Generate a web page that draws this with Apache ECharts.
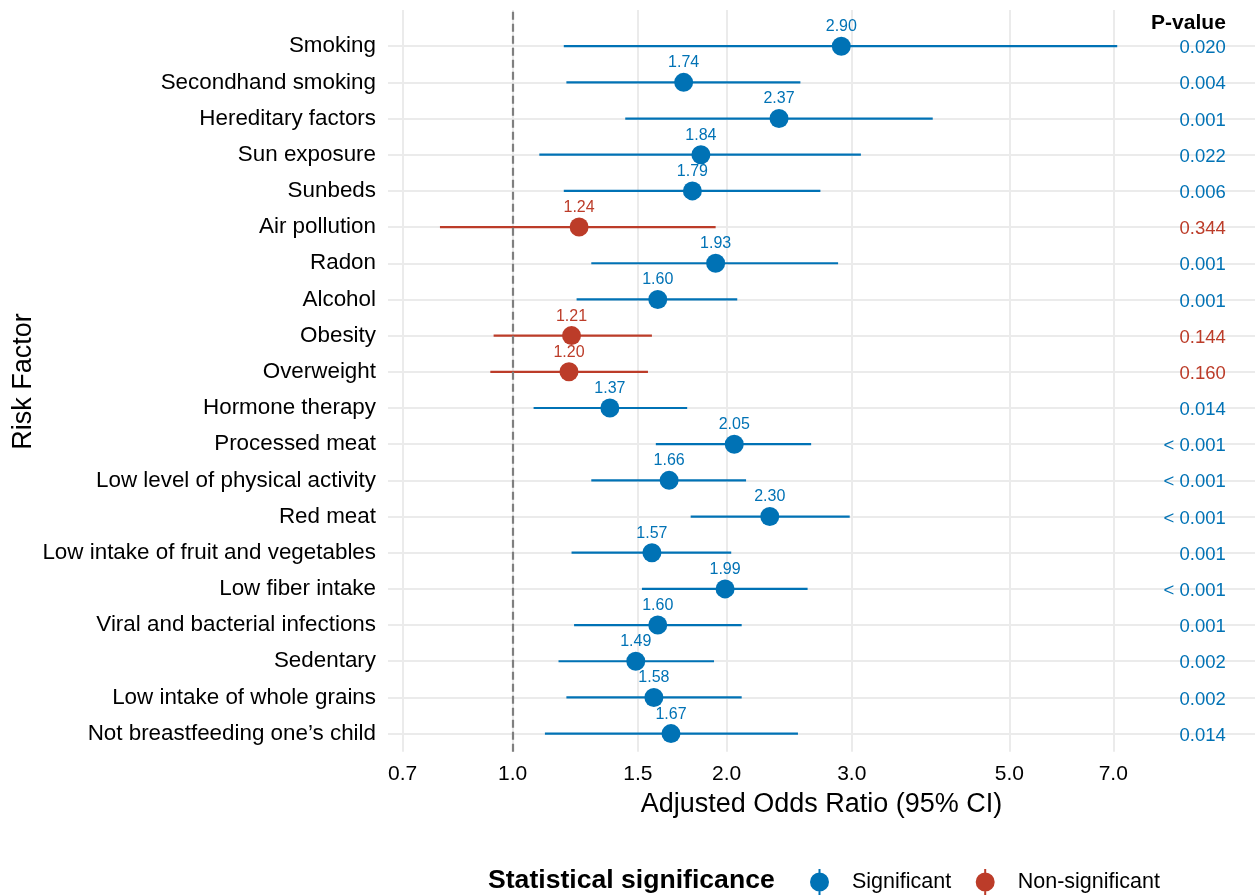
<!DOCTYPE html>
<html>
<head>
<meta charset="utf-8">
<script src="https://cdn.jsdelivr.net/npm/echarts@6/dist/echarts.min.js"></script>
<style>
  html, body { margin: 0; padding: 0; background: #fff; }
  #chart { width: 1255px; height: 895px; }
</style>
</head>
<body>
<div id="chart"></div>
<script>
// ---------- data (top row first) ----------
const categories = [
  'Smoking', 'Secondhand smoking', 'Hereditary factors', 'Sun exposure', 'Sunbeds',
  'Air pollution', 'Radon', 'Alcohol', 'Obesity', 'Overweight', 'Hormone therapy',
  'Processed meat', 'Low level of physical activity', 'Red meat',
  'Low intake of fruit and vegetables', 'Low fiber intake',
  'Viral and bacterial infections', 'Sedentary', 'Low intake of whole grains',
  'Not breastfeeding one\u2019s child'
];
const oddsRatio = [2.90, 1.74, 2.37, 1.84, 1.79, 1.24, 1.93, 1.60, 1.21, 1.20,
                   1.37, 2.05, 1.66, 2.30, 1.57, 1.99, 1.60, 1.49, 1.58, 1.67];
const ciLower   = [1.18, 1.19, 1.44, 1.09, 1.18, 0.79, 1.29, 1.23, 0.94, 0.93,
                   1.07, 1.59, 1.29, 1.78, 1.21, 1.52, 1.22, 1.16, 1.19, 1.11];
const ciUpper   = [7.09, 2.54, 3.90, 3.09, 2.71, 1.93, 2.87, 2.07, 1.57, 1.55,
                   1.76, 2.63, 2.13, 2.98, 2.03, 2.60, 2.10, 1.92, 2.10, 2.52];
const pValueLabels = ['0.020', '0.004', '0.001', '0.022', '0.006', '0.344', '0.001',
                      '0.001', '0.144', '0.160', '0.014', '< 0.001', '< 0.001',
                      '< 0.001', '0.001', '< 0.001', '0.001', '0.002', '0.002', '0.014'];
const isSignificant = [1, 1, 1, 1, 1, 0, 1, 1, 0, 0, 1, 1, 1, 1, 1, 1, 1, 1, 1, 1];
const xTickValues = [0.7, 1.0, 1.5, 2.0, 3.0, 5.0, 7.0];
const xRange = [0.6676, 11.08];      // odds-ratio scale limits (log scale)
const referenceOR = 1.0;
const pValueX = 10.08;               // odds-ratio position of the p-value column
const pHeaderRow = 20.7;
const pHeader = 'P-value';
const groupNames = ['Non-significant', 'Significant'];

// ---------- style ----------
const BLUE = '#0072B5';
const RED = '#BC3C29';
const FONT = '"Liberation Sans", Arial, Helvetica, sans-serif';
const GRID_COLOR = '#EBEBEB';

const lg = v => Math.log10(v);
const n = categories.length;
const rowOf = i => n - i;   // top row gets the highest value

const ciData = categories.map((c, i) => [lg(ciLower[i]), lg(ciUpper[i]), rowOf(i), isSignificant[i]]);
const pointData = g => categories
  .map((c, i) => ({ i, g: isSignificant[i] }))
  .filter(o => o.g === g)
  .map(o => [lg(oddsRatio[o.i]), rowOf(o.i), oddsRatio[o.i]]);

// p-value column: [x, row, index]  (index -1 = header)
const pData = categories.map((c, i) => [lg(pValueX), rowOf(i), i]);
pData.push([lg(pValueX), pHeaderRow, -1]);

const legendIcon = 'path://M8.5 0 H10.5 V26 H8.5 Z M0 13 A9.5 9.5 0 1 1 19 13 A9.5 9.5 0 1 1 0 13 Z';

const chart = echarts.init(document.getElementById('chart'), null, { renderer: 'canvas' });
chart.setOption({
  animation: false,
  backgroundColor: '#fff',
  textStyle: { fontFamily: FONT },
  grid: { left: 388, right: 0, top: 10, bottom: 143.3, containLabel: false },
  xAxis: {
    type: 'value',
    min: lg(xRange[0]),
    max: lg(xRange[1]),
    axisLine: { show: false },
    axisTick: { show: false, customValues: xTickValues.map(lg) },
    axisLabel: {
      customValues: xTickValues.map(lg),
      formatter: v => Math.pow(10, v).toFixed(1),
      fontSize: 21, color: '#000', margin: 12, fontFamily: FONT
    },
    splitLine: { show: true, lineStyle: { color: GRID_COLOR, width: 2 } },
    name: 'Adjusted Odds Ratio (95% CI)',
    nameLocation: 'middle',
    nameGap: 39,
    nameTextStyle: { fontSize: 27, color: '#000', fontFamily: FONT }
  },
  yAxis: {
    type: 'value',
    min: 0.5,
    max: 21,
    axisLine: { show: false },
    axisTick: { show: false, customValues: categories.map((c, i) => rowOf(i)) },
    axisLabel: {
      customValues: categories.map((c, i) => rowOf(i)),
      formatter: v => categories[n - Math.round(v)],
      fontSize: 22.4, color: '#000', margin: 12, fontFamily: FONT,
      padding: [4, 0, 0, 0]
    },
    splitLine: { show: true, lineStyle: { color: GRID_COLOR, width: 2 } }
  },
  legend: {
    data: [
      { name: 'Significant', icon: legendIcon },
      { name: 'Non-significant', icon: legendIcon }
    ],
    left: 810,
    top: 869,
    padding: 0,
    itemWidth: 19,
    itemHeight: 26,
    itemGap: 24.5,
    selectedMode: false,
    textStyle: { fontSize: 21.5, color: '#000', fontFamily: FONT, padding: [0, 0, 0, 18] }
  },
  graphic: [
    {
      type: 'text', left: 488, top: 881 - 14,
      style: { text: 'Statistical significance', font: 'bold 26.6px ' + FONT, fill: '#000' }
    },
    {
      type: 'text', x: 24, y: 381.5, rotation: Math.PI / 2,
      style: { text: 'Risk Factor', font: '27px ' + FONT, fill: '#000', align: 'center', verticalAlign: 'middle' }
    }
  ],
  series: [
    {
      type: 'custom',
      name: 'ci',
      z: 2,
      encode: { x: [0, 1], y: 2 },
      data: ciData,
      renderItem: (params, api) => {
        const y = api.value(2);
        const p1 = api.coord([api.value(0), y]);
        const p2 = api.coord([api.value(1), y]);
        return {
          type: 'line',
          shape: { x1: p1[0], y1: p1[1], x2: p2[0], y2: p2[1] },
          style: { stroke: api.value(3) ? BLUE : RED, lineWidth: 2.2 }
        };
      },
      markLine: {
        silent: true,
        symbol: 'none',
        label: { show: false },
        lineStyle: { color: '#7F7F7F', width: 2.2, type: [8, 4] },
        data: [{ xAxis: lg(referenceOR) }]
      }
    },
    {
      type: 'scatter',
      name: groupNames[1],
      z: 4,
      symbol: 'circle',
      symbolSize: 19,
      itemStyle: { color: BLUE, opacity: 1 },
      label: {
        show: true, position: 'top', distance: 2,
        formatter: p => p.data[2].toFixed(2),
        fontSize: 16, color: BLUE, fontFamily: FONT
      },
      data: pointData(1)
    },
    {
      type: 'scatter',
      name: groupNames[0],
      z: 4,
      symbol: 'circle',
      symbolSize: 19,
      itemStyle: { color: RED, opacity: 1 },
      label: {
        show: true, position: 'top', distance: 2,
        formatter: p => p.data[2].toFixed(2),
        fontSize: 16, color: RED, fontFamily: FONT
      },
      data: pointData(0)
    },
    {
      type: 'custom',
      name: 'pvalues',
      z: 5,
      silent: true,
      encode: { x: 0, y: 1 },
      data: pData,
      renderItem: (params, api) => {
        const idx = api.value(2);
        const pt = api.coord([api.value(0), api.value(1)]);
        const header = idx < 0;
        return {
          type: 'text',
          x: pt[0], y: pt[1] + 2,
          style: {
            text: header ? pHeader : pValueLabels[idx],
            fill: header ? '#000' : (isSignificant[idx] ? BLUE : RED),
            font: (header ? 'bold 21px ' : '18.5px ') + FONT,
            align: 'right',
            verticalAlign: 'middle'
          }
        };
      }
    }
  ]
});
</script>
</body>
</html>
